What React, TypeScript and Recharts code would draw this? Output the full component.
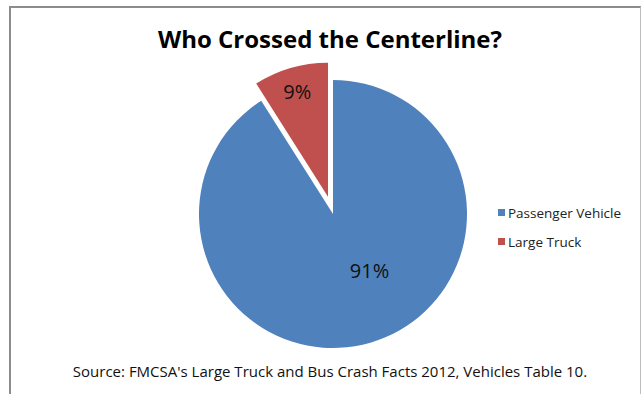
import { PieChart, Pie, Cell, Legend } from 'recharts'

// ── Data ──────────────────────────────────────────────────────────────────────

const categories = ['Passenger Vehicle', 'Large Truck']
const shares     = [91, 9]
const colors     = ['#4F81BD', '#C0504D']

const TITLE  = 'Who Crossed the Centerline?'
const SOURCE = "Source: FMCSA's Large Truck and Bus Crash Facts 2012, Vehicles Table 10."

const data = categories.map((name, i) => ({ name, value: shares[i] }))

// ── Layout ────────────────────────────────────────────────────────────────────

const W = 642
const H = 394
const CX = 333
const CY = 214
const R = 134
const EXPLODE = 18
const START = 90
const END = -270
const FONT = '"Open Sans", "Noto Sans", sans-serif'
const RAD = Math.PI / 180

// mid angle of the exploded slice, from the data
const total = shares.reduce((s, v) => s + v, 0)
const truckMid = START - ((shares[0] + shares[1] / 2) / total) * 360
const ECX = CX + EXPLODE * Math.cos(truckMid * RAD)
const ECY = CY - EXPLODE * Math.sin(truckMid * RAD)

interface LabelProps {
  cx: number
  cy: number
  midAngle: number
  outerRadius: number
  index: number
  value: number
}

function makeLabel(show: number, frac: number, angleShift: number) {
  return (p: LabelProps) => {
    if (p.index !== show) return null
    const a = (p.midAngle + angleShift) * RAD
    const x = p.cx + p.outerRadius * frac * Math.cos(a)
    const y = p.cy - p.outerRadius * frac * Math.sin(a)
    return (
      <text
        x={x}
        y={y}
        textAnchor="middle"
        dominantBaseline="central"
        fill="#111"
        fontSize={20}
        fontFamily={FONT}
      >
        {`${p.value}%`}
      </text>
    )
  }
}

function LegendBox() {
  return (
    <div style={{ fontFamily: FONT, fontSize: 13.5, color: '#222' }}>
      {categories.map((c, i) => (
        <div key={c} style={{ display: 'flex', alignItems: 'center', height: 29 }}>
          <span
            style={{
              width: 7,
              height: 7,
              background: colors[i],
              marginRight: 3,
              display: 'inline-block',
            }}
          />
          {c}
        </div>
      ))}
    </div>
  )
}

export default function App() {
  return (
    <div
      style={{
        position: 'fixed',
        left: 0,
        top: 0,
        width: W,
        height: H,
        overflow: 'hidden',
        background: '#fff',
      }}
    >
      <div
        style={{
          position: 'absolute',
          left: 9,
          top: 6,
          width: 629,
          height: 420,
          borderLeft: '2px solid #8c8c8c',
          borderTop: '2px solid #8c8c8c',
          borderRight: '1px solid #bdbdbd',
        }}
      />
      <div
        style={{
          position: 'absolute',
          left: 0,
          width: 660,
          top: 22,
          textAlign: 'center',
          fontFamily: FONT,
          fontWeight: 700,
          fontSize: 24,
          color: '#000',
        }}
      >
        {TITLE}
      </div>
      <div
        style={{
          position: 'absolute',
          left: 0,
          width: 660,
          top: 361,
          textAlign: 'center',
          fontFamily: FONT,
          fontSize: 15,
          color: '#111',
        }}
      >
        {SOURCE}
      </div>
      <div style={{ position: 'absolute', left: 0, top: 0 }}>
        <PieChart width={W} height={H} margin={{ top: 0, right: 0, bottom: 0, left: 0 }}>
          <Pie
            data={data}
            dataKey="value"
            nameKey="name"
            cx={CX}
            cy={CY}
            outerRadius={R}
            startAngle={START}
            endAngle={END}
            stroke="none"
            labelLine={false}
            label={makeLabel(0, 0.5, 16.8)}
            legendType="none"
            isAnimationActive={false}
          >
            {data.map((d, i) => (
              <Cell key={d.name} fill={i === 0 ? colors[0] : 'transparent'} />
            ))}
          </Pie>
          <Pie
            data={data}
            dataKey="value"
            nameKey="name"
            cx={ECX}
            cy={ECY}
            outerRadius={R}
            startAngle={START}
            endAngle={END}
            stroke="none"
            labelLine={false}
            label={makeLabel(1, 0.82, 0)}
            legendType="none"
            isAnimationActive={false}
          >
            {data.map((d, i) => (
              <Cell key={d.name} fill={i === 1 ? colors[1] : 'transparent'} />
            ))}
          </Pie>
          <Legend
            layout="vertical"
            align="right"
            verticalAlign="middle"
            content={() => <LegendBox />}
            wrapperStyle={{ left: 498, top: 198, width: 140 }}
          />
        </PieChart>
      </div>
    </div>
  )
}
